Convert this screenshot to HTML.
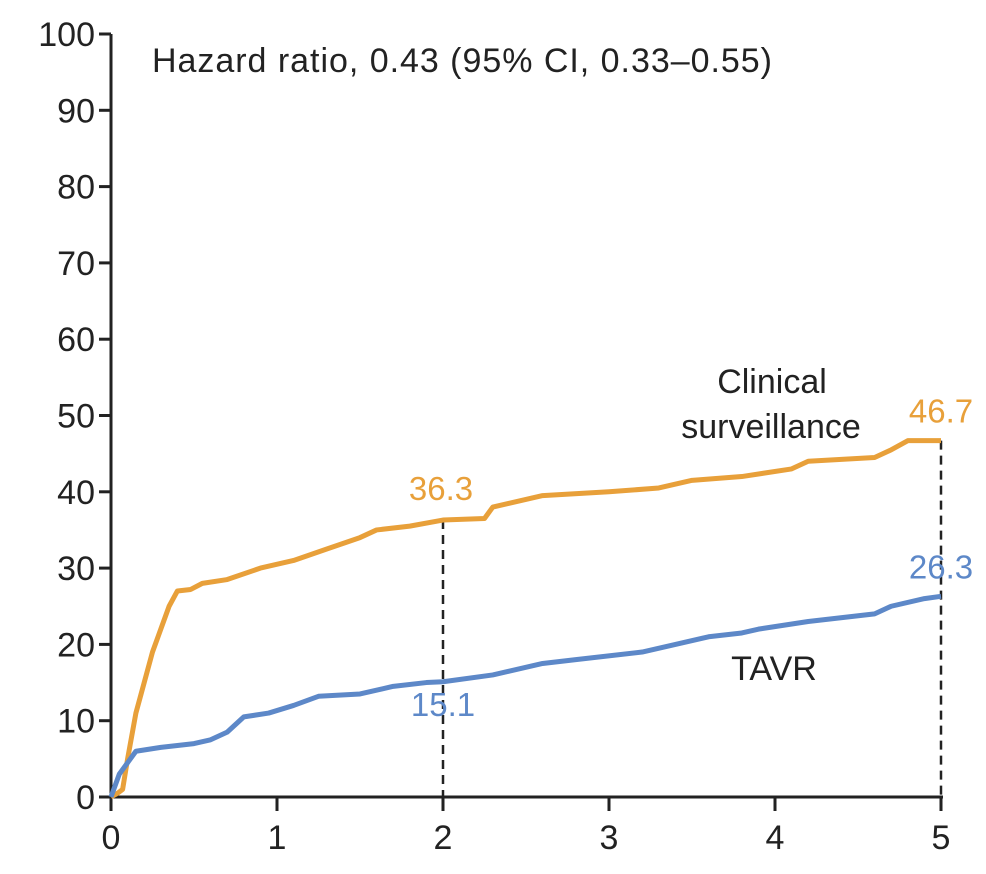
<!DOCTYPE html>
<html><head><meta charset="utf-8"><style>
body{margin:0;background:#fff}
svg text{font-family:"Liberation Sans",sans-serif}
</style></head><body>
<svg id="c" width="986" height="869"></svg>
<script>
const xTicks=[0,1,2,3,4,5];
const yTicks=[0,10,20,30,40,50,60,70,80,90,100];
const orangeT=[0,0.04,0.07,0.1,0.15,0.2,0.25,0.3,0.35,0.4,0.48,0.55,0.7,0.9,1.1,1.3,1.5,1.6,1.8,2,2.25,2.3,2.6,3,3.3,3.5,3.8,4.1,4.2,4.6,4.7,4.8,5];
const orangeV=[0,0.5,1,5,11,15,19,22,25,27,27.2,28,28.5,30,31,32.5,34,35,35.5,36.3,36.5,38,39.5,40,40.5,41.5,42,43,44,44.5,45.5,46.7,46.7];
const blueT=[0,0.05,0.1,0.15,0.3,0.5,0.6,0.7,0.8,0.95,1.1,1.25,1.5,1.7,1.9,2,2.3,2.6,2.8,3.2,3.4,3.6,3.8,3.9,4.2,4.6,4.7,4.9,5];
const blueV=[0,3,4.5,6,6.5,7,7.5,8.5,10.5,11,12,13.2,13.5,14.5,15,15.1,16,17.5,18,19,20,21,21.5,22,23,24,25,26,26.3];
const x0=111,x1=941,y0=797,y1=34;
const X=t=>x0+(x1-x0)*t/5, Y=v=>y0-(y0-y1)*v/100;
const s=document.getElementById('c'),NS='http://www.w3.org/2000/svg';
function mk(tag,at,txt){const e=document.createElementNS(NS,tag);for(const k in at)e.setAttribute(k,at[k]);if(txt!==undefined)e.textContent=txt;s.appendChild(e);return e;}
let e;
e=mk('line',{x1:x0,y1:y1,x2:x0,y2:y0,stroke:'#222','stroke-width':3});


e=mk('line',{x1:x0-2,y1:y0,x2:X(5)+2,y2:y0,stroke:'#222','stroke-width':3});


yTicks.forEach(v=>{
 e=mk('line',{x1:x0-12,y1:Y(v),x2:x0,y2:Y(v),stroke:'#222','stroke-width':3});
 
 
 e=mk('text',{x:x0-16,y:Y(v)+12,'text-anchor':'end','font-size':34,fill:'#222'},v);
 
 
});
xTicks.forEach(t=>{
 e=mk('line',{x1:X(t),y1:y0,x2:X(t),y2:y0+14,stroke:'#222','stroke-width':3});
 
 
 e=mk('text',{x:X(t),y:y0+52,'text-anchor':'middle','font-size':34,fill:'#222'},t);
 
 
});
function line(T,V){let d='M'+X(T[0])+','+Y(V[0]);for(let i=1;i<T.length;i++){d+='L'+X(T[i])+','+Y(V[i]);}return d;}
function ip(T,V,t){let r=V[0];for(let i=0;i<T.length;i++)if(T[i]<=t)r=V[i];return r;}
[2,5].forEach(t=>{
 e=mk('line',{x1:X(t),y1:Y(ip(orangeT,orangeV,t)),x2:X(t),y2:y0,stroke:'#222','stroke-width':2.5,'stroke-dasharray':'9,6'});
 
 
});
e=mk('path',{d:line(orangeT,orangeV),fill:'none',stroke:'#e8a03a','stroke-width':5,'stroke-linejoin':'round'});


e=mk('path',{d:line(blueT,blueV),fill:'none',stroke:'#5d88c8','stroke-width':5,'stroke-linejoin':'round'});


const labels=[[X(2)-2,Y(36.3)-20,'36.3','#e8a03a'],[X(5),Y(46.7)-18,'46.7','#e8a03a'],[X(2),Y(15.1)+34,'15.1','#5d88c8'],[X(5),Y(26.3)-18,'26.3','#5d88c8']];
labels.forEach(l=>{
 e=mk('text',{x:l[0],y:l[1],'text-anchor':'middle','font-size':33,fill:l[3]},l[2]);
 
 
});
e=mk('text',{x:772,y:393,'text-anchor':'middle','font-size':34,fill:'#222'},'Clinical');


e=mk('text',{x:771,y:438,'text-anchor':'middle','font-size':34,fill:'#222'},'surveillance');


e=mk('text',{x:774,y:680,'text-anchor':'middle','font-size':34,fill:'#222'},'TAVR');


e=mk('text',{x:152,y:72,'font-size':34,fill:'#222',textLength:620},'Hazard ratio, 0.43 (95% CI, 0.33\u20130.55)');


</script>
</body></html>
